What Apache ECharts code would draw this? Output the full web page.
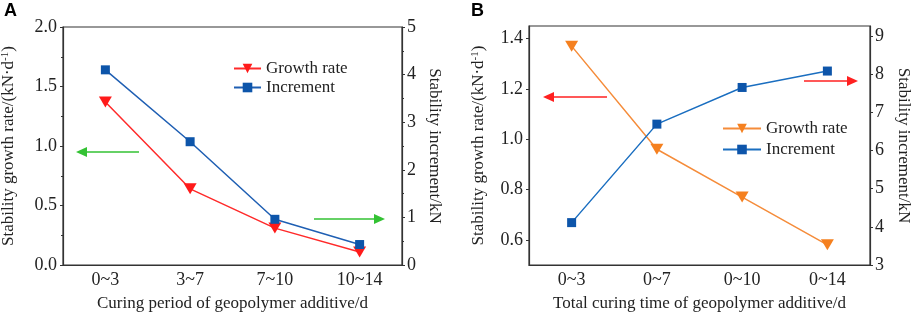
<!DOCTYPE html>
<html>
<head>
<meta charset="utf-8">
<script src="https://cdn.jsdelivr.net/npm/echarts@6/dist/echarts.min.js"></script>
<style>
  html, body { margin: 0; padding: 0; background: #fff; }
  #main { width: 913px; height: 315px; }
</style>
</head>
<body>
<div id="main"></div>
<script>
// panel A data
var catsA = ["0~3", "3~7", "7~10", "10~14"];
var rateA = [1.37, 0.64, 0.31, 0.11];
var incA = [4.10, 2.59, 0.96, 0.43];

// panel B data
var catsB = ["0~3", "0~7", "0~10", "0~14"];
var rateB = [1.37, 0.96, 0.77, 0.58];
var incB = [4.11, 6.69, 7.65, 8.08];

var ticksBLeft = [0.6, 0.8, 1.0, 1.2, 1.4];
var ticksBRight = [3, 4, 5, 6, 7, 8, 9];

var serif = "Liberation Serif";
var txt = "#222";

function yAxis(grid, pos, opts) {
  var a = {
    type: "value",
    gridIndex: grid,
    position: pos,
    nameLocation: "middle",
    nameTextStyle: {
      fontFamily: serif, fontSize: 17, color: txt,
      rich: { sup: { fontFamily: serif, fontSize: 11, color: txt, verticalAlign: "top", padding: [0, 0, 7, 0] } }
    },
    axisLine: { show: true, lineStyle: { color: "#333", width: 1.2 } },
    axisTick: { show: true, length: 3, lineStyle: { color: "#333" } },
    axisLabel: { fontFamily: serif, fontSize: 18, color: txt, margin: 5 },
    splitLine: { show: false }
  };
  for (var k in opts) a[k] = opts[k];
  return a;
}

function xAxis(grid, cats, name) {
  return {
    type: "category",
    gridIndex: grid,
    data: cats,
    name: name,
    nameLocation: "middle",
    nameGap: 30,
    nameTextStyle: { fontFamily: serif, fontSize: 17, color: txt },
    axisLine: { lineStyle: { color: "#333", width: 1.2 } },
    axisTick: { alignWithLabel: true, length: 3, lineStyle: { color: "#333" } },
    axisLabel: { fontFamily: serif, fontSize: 18, color: txt, margin: 6 },
    splitLine: { show: false }
  };
}

function arrow(x1, x2, y, color) {
  var dir = x2 < x1 ? -1 : 1;
  var tip = x2;
  var base = x2 - dir * 11;
  return [
    { type: "line", shape: { x1: x1, y1: y, x2: base, y2: y }, style: { stroke: color, lineWidth: 1.5 } },
    { type: "polygon", shape: { points: [[tip, y], [base, y - 5], [base, y + 5]] }, style: { fill: color } }
  ];
}

var chart = echarts.init(document.getElementById("main"));

var option = {
  animation: false,
  backgroundColor: "#fff",
  grid: [
    { left: 63, right: 511, top: 27, bottom: 50, show: true, borderColor: "#333", borderWidth: 1.2, outerBoundsMode: "none", containLabel: false },
    { left: 529, right: 43, top: 26, bottom: 50, show: true, borderColor: "#333", borderWidth: 1.2, outerBoundsMode: "none", containLabel: false }
  ],
  legend: [
    {
      left: 233, top: 60, padding: 0, orient: "vertical", itemGap: 2, itemWidth: 27, itemHeight: 12,
      data: ["A Growth rate", "A Increment"],
      formatter: function (n) { return n.slice(2); },
      textStyle: { fontFamily: serif, fontSize: 17, color: txt }
    },
    {
      left: 722, top: 120, padding: 0, orient: "vertical", itemGap: 4, itemWidth: 38, itemHeight: 12,
      data: ["B Growth rate", "B Increment"],
      formatter: function (n) { return n.slice(2); },
      textStyle: { fontFamily: serif, fontSize: 17, color: txt }
    }
  ],
  xAxis: [
    xAxis(0, catsA, "Curing period of geopolymer additive/d"),
    xAxis(1, catsB, "Total curing time of geopolymer additive/d")
  ],
  yAxis: [
    yAxis(0, "left", {
      min: 0, max: 2, interval: 0.5,
      name: "Stability growth rate/(kN·d{sup|-1})", nameGap: 45,
      minorTick: { show: true, splitNumber: 2, length: 2, lineStyle: { color: "#333" } },
      axisLabel: { fontFamily: serif, fontSize: 18, color: txt, margin: 6, formatter: function (v) { return v.toFixed(1); } }
    }),
    yAxis(0, "right", {
      min: 0, max: 5, interval: 1,
      name: "Stability increment/kN", nameGap: 24, nameRotate: -90,
      minorTick: { show: true, splitNumber: 2, length: 2, lineStyle: { color: "#333" } }
    }),
    yAxis(1, "left", {
      min: 0.5, max: 1.45,
      name: "Stability growth rate/(kN·d{sup|-1})", nameGap: 41,
      axisTick: { show: true, length: 3, customValues: ticksBLeft, lineStyle: { color: "#333" } },
      axisLabel: { fontFamily: serif, fontSize: 18, color: txt, margin: 6, customValues: ticksBLeft, formatter: function (v) { return v.toFixed(1); } }
    }),
    yAxis(1, "right", {
      min: 3, max: 9.26,
      name: "Stability increment/kN", nameGap: 25, nameRotate: -90,
      axisTick: { show: true, length: 3, customValues: ticksBRight, lineStyle: { color: "#333" } },
      axisLabel: { fontFamily: serif, fontSize: 18, color: txt, margin: 5, customValues: ticksBRight }
    })
  ],
  series: [
    {
      name: "A Growth rate", type: "line", xAxisIndex: 0, yAxisIndex: 0, data: rateA,
      symbol: "triangle", symbolRotate: 180, symbolSize: [13, 11],
      lineStyle: { color: "#ff2a2a", width: 1.5 }, itemStyle: { color: "#ff1a1a" }
    },
    {
      name: "A Increment", type: "line", xAxisIndex: 0, yAxisIndex: 1, data: incA,
      symbol: "rect", symbolSize: 9,
      lineStyle: { color: "#1f5fb3", width: 1.5 }, itemStyle: { color: "#0d55aa" }
    },
    {
      name: "B Growth rate", type: "line", xAxisIndex: 1, yAxisIndex: 2, data: rateB,
      symbol: "triangle", symbolRotate: 180, symbolSize: [13, 11],
      lineStyle: { color: "#f58c3a", width: 1.5 }, itemStyle: { color: "#f5801f" }
    },
    {
      name: "B Increment", type: "line", xAxisIndex: 1, yAxisIndex: 3, data: incB,
      symbol: "rect", symbolSize: 9,
      lineStyle: { color: "#1a6ec0", width: 1.5 }, itemStyle: { color: "#0d55aa" }
    }
  ],
  graphic: [
    { type: "text", left: 4, top: 2, style: { text: "A", font: "bold 18px Liberation Sans", fill: "#000" } },
    { type: "text", left: 471, top: 2, style: { text: "B", font: "bold 18px Liberation Sans", fill: "#000" } }
  ]
    .concat(arrow(139, 76, 152, "#33c233"))
    .concat(arrow(314, 385, 219, "#33c233"))
    .concat(arrow(607, 543, 97, "#ff2020"))
    .concat(arrow(804, 858, 81, "#ff2020"))
};

chart.setOption(option);
</script>
</body>
</html>
